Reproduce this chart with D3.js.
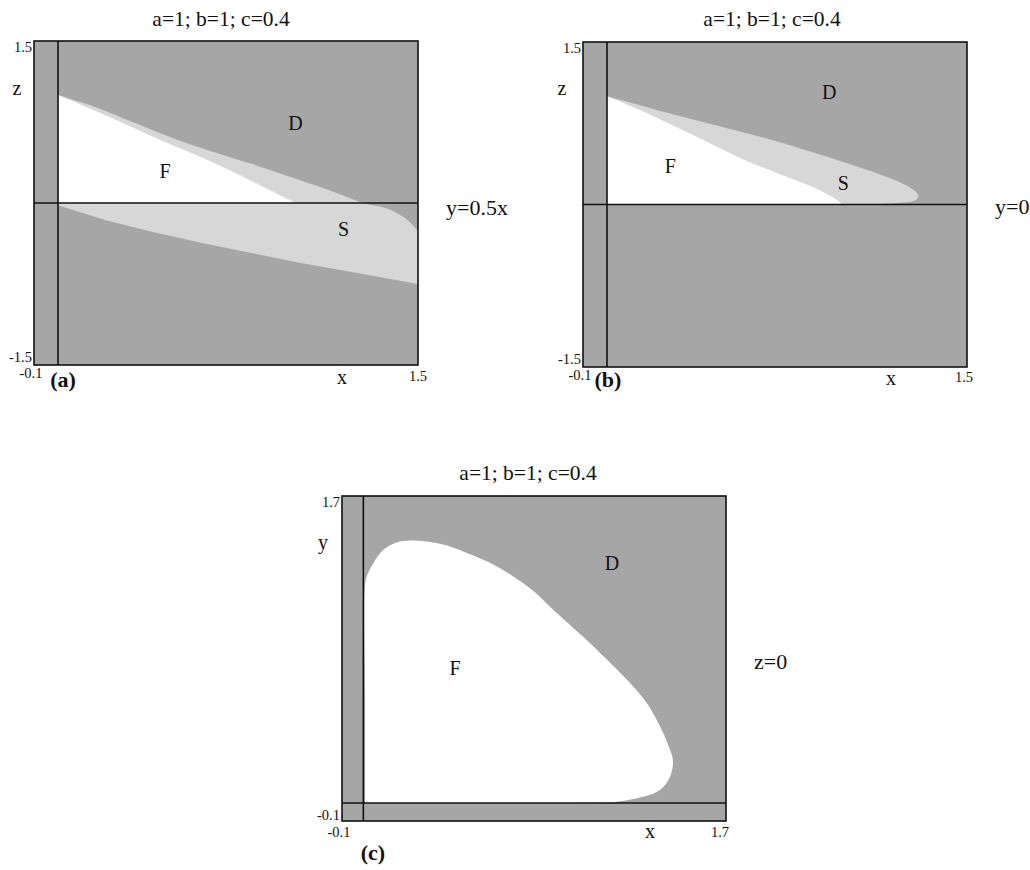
<!DOCTYPE html>
<html>
<head>
<meta charset="utf-8">
<script src="https://cdn.jsdelivr.net/npm/d3@7"></script>
<style>
  body { margin: 0; background: #fff; }
  svg { display: block; }
  text { font-family: "Liberation Serif", "Times New Roman", serif; fill: #111; }
</style>
</head>
<body>
<svg id="fig" width="1030" height="870"></svg>
<script>
// Parameters shown above every section
const paramTitle = "a=1; b=1; c=0.4";

// (a) section y = 0.5x, points are (x, z)
const aFeasibleEdge = [[0, 1.0], [0.16, 0.85], [0.30, 0.71], [0.44, 0.57], [0.58, 0.44],
  [0.70, 0.32], [0.81, 0.20], [0.90, 0.10], [0.99, 0.0]];
const aStableUpperEdge = [[0, 1.0], [0.10, 0.93], [0.16, 0.885], [0.30, 0.76], [0.44, 0.635],
  [0.58, 0.52], [0.68, 0.45], [0.81, 0.36], [0.95, 0.255], [1.09, 0.15], [1.20, 0.06],
  [1.27, 0.0], [1.37, -0.05], [1.44, -0.13], [1.48, -0.21], [1.5, -0.26]];
const aStableLowerEdge = [[1.5, -0.75], [1.2, -0.63], [1.0, -0.55], [0.8, -0.46],
  [0.6, -0.37], [0.4, -0.27], [0.2, -0.16], [0, -0.02]];

// (b) section y = 0, points are (x, z)
const bFeasibleEdge = [[0, 1.0], [0.14, 0.87], [0.35, 0.65], [0.555, 0.43], [0.72, 0.28],
  [0.86, 0.16], [0.96, 0.04], [0.98, 0.0]];
const bStableEdge = [[0, 1.0], [0.14, 0.915], [0.35, 0.79], [0.555, 0.675], [0.72, 0.575],
  [0.86, 0.48], [1.0, 0.38], [1.14, 0.275], [1.235, 0.19], [1.285, 0.12], [1.298, 0.075],
  [1.28, 0.035], [1.21, 0.015], [1.10, 0.005], [0.98, 0.0]];

// (c) section z = 0, points are (x, y)
const cFeasibleEdge = [[0.008, 0], [0.008, 0.6], [0.008, 1.20], [0.016, 1.254], [0.047, 1.328],
  [0.094, 1.402], [0.157, 1.442], [0.219, 1.453], [0.359, 1.435], [0.485, 1.385],
  [0.594, 1.330], [0.703, 1.254], [0.796, 1.175], [0.891, 1.069], [0.969, 0.986],
  [1.063, 0.885], [1.157, 0.776], [1.266, 0.644], [1.335, 0.543], [1.391, 0.423],
  [1.429, 0.321], [1.451, 0.238], [1.438, 0.146], [1.391, 0.072], [1.282, 0.026],
  [1.172, 0.004]];

// Region labels, in data coordinates
const aLabels = [["D", 0.99, 0.74], ["F", 0.446, 0.30], ["S", 1.19, -0.24]];
const bLabels = [["D", 0.926, 1.04], ["F", 0.264, 0.354], ["S", 0.985, 0.196]];
const cLabels = [["D", 1.166, 1.33], ["F", 0.43, 0.748]];

const COLOR_D = "#a6a6a6";
const COLOR_S = "#d7d7d7";
const COLOR_F = "#ffffff";

const svg = d3.select("#fig");

function drawPanel(cfg) {
  const g = svg.append("g");
  const x = d3.scaleLinear().domain(cfg.xDomain).range([cfg.left, cfg.right]);
  const y = d3.scaleLinear().domain(cfg.yDomain).range([cfg.bottom, cfg.top]);
  const [x0, x1] = cfg.xDomain, [y0, y1] = cfg.yDomain;

  // divergent region fills the whole frame
  g.append("rect")
    .attr("x", x(x0)).attr("y", y(y1))
    .attr("width", x(x1) - x(x0)).attr("height", y(y0) - y(y1))
    .attr("fill", COLOR_D);

  const smooth = d3.line().x(d => x(d[0])).y(d => y(d[1]))
    .curve(d3.curveCatmullRom.alpha(0.5));
  const straight = pts => pts.map(d => "L" + x(d[0]) + "," + y(d[1])).join("");

  cfg.regions.forEach(r => {
    g.append("path")
      .attr("d", smooth(r.edge) + straight(r.close) + "Z")
      .attr("fill", r.fill)
      .attr("stroke", "none");
  });

  // coordinate axes through the origin
  g.append("line")
    .attr("x1", x(0)).attr("x2", x(0)).attr("y1", y(y1)).attr("y2", y(y0))
    .attr("stroke", "#111").attr("stroke-width", 1.6);
  g.append("line")
    .attr("x1", x(x0)).attr("x2", x(x1)).attr("y1", y(0)).attr("y2", y(0))
    .attr("stroke", "#111").attr("stroke-width", 1.6);

  // frame
  g.append("rect")
    .attr("x", x(x0)).attr("y", y(y1))
    .attr("width", x(x1) - x(x0)).attr("height", y(y0) - y(y1))
    .attr("fill", "none").attr("stroke", "#111").attr("stroke-width", 1.6);

  // region letters
  g.selectAll("text.region").data(cfg.labels).join("text")
    .attr("class", "region")
    .attr("x", d => x(d[1])).attr("y", d => y(d[2]) + 7)
    .attr("text-anchor", "middle").attr("font-size", 20)
    .text(d => d[0]);

  // title
  g.append("text")
    .attr("x", (cfg.left + cfg.right) / 2 + cfg.titleDx).attr("y", cfg.top - cfg.titleGap)
    .attr("text-anchor", "middle").attr("font-size", 21.5)
    .text(paramTitle);

  // range labels at the frame corners
  const t = cfg.ticks;
  const tick = (txt, px, py, anchor) => g.append("text")
    .attr("x", px).attr("y", py).attr("text-anchor", anchor)
    .attr("font-size", 14.5).text(txt);
  tick(String(y1), x(x0) - 2, y(y1) + 11, "end");
  tick(String(y0), x(x0) - 2, y(y0) + t.leftLowDy, "end");
  tick(String(x0), x(x0) - 3, y(y0) + t.bottomDy, "middle");
  tick(String(x1), x(x1) - t.rightDx, y(y0) + t.rightDy, "middle");

  // axis names
  g.append("text").attr("x", x(x1) - 76).attr("y", y(y0) + t.nameDy)
    .attr("text-anchor", "middle").attr("font-size", 20).text("x");
  g.append("text").attr("x", x(x0) - cfg.vNameDx).attr("y", cfg.vNameY)
    .attr("text-anchor", "middle").attr("font-size", 20).text(cfg.vName);

  // section plane
  g.append("text").attr("x", x(x1) + 28).attr("y", cfg.sectionY)
    .attr("font-size", 22).text(cfg.section);

  // panel tag
  g.append("text").attr("x", cfg.tagX).attr("y", cfg.tagY)
    .attr("text-anchor", "middle").attr("font-size", 22).attr("font-weight", "bold")
    .text(cfg.tag);
}

drawPanel({
  xDomain: [-0.1, 1.5], yDomain: [-1.5, 1.5],
  left: 34, right: 418, top: 41, bottom: 365,
  regions: [
    { edge: aStableUpperEdge, close: aStableLowerEdge, fill: COLOR_S },
    { edge: aFeasibleEdge, close: [[0, 0]], fill: COLOR_F }
  ],
  labels: aLabels, titleDx: -5, titleGap: 15,
  ticks: { leftLowDy: -3, bottomDy: 13, rightDx: 0, rightDy: 16, nameDy: 19 },
  vName: "z", vNameDx: 17, vNameY: 95,
  section: "y=0.5x", sectionY: 215,
  tag: "(a)", tagX: 63, tagY: 387
});

drawPanel({
  xDomain: [-0.1, 1.5], yDomain: [-1.5, 1.5],
  left: 583, right: 967, top: 42, bottom: 367,
  regions: [
    { edge: bStableEdge, close: [[0, 0]], fill: COLOR_S },
    { edge: bFeasibleEdge, close: [[0, 0]], fill: COLOR_F }
  ],
  labels: bLabels, titleDx: -3, titleGap: 16,
  ticks: { leftLowDy: -3, bottomDy: 13, rightDx: 3, rightDy: 15, nameDy: 18 },
  vName: "z", vNameDx: 21, vNameY: 95,
  section: "y=0", sectionY: 214,
  tag: "(b)", tagX: 608, tagY: 387
});

drawPanel({
  xDomain: [-0.1, 1.7], yDomain: [-0.1, 1.7],
  left: 342, right: 726, top: 496, bottom: 821,
  regions: [
    { edge: cFeasibleEdge, close: [[1.0, 0]], fill: COLOR_F }
  ],
  labels: cLabels, titleDx: -6, titleGap: 16,
  ticks: { leftLowDy: -1, bottomDy: 16, rightDx: 6, rightDy: 16, nameDy: 17 },
  vName: "y", vNameDx: 19, vNameY: 549,
  section: "z=0", sectionY: 669,
  tag: "(c)", tagX: 373, tagY: 860
});
</script>
</body>
</html>
